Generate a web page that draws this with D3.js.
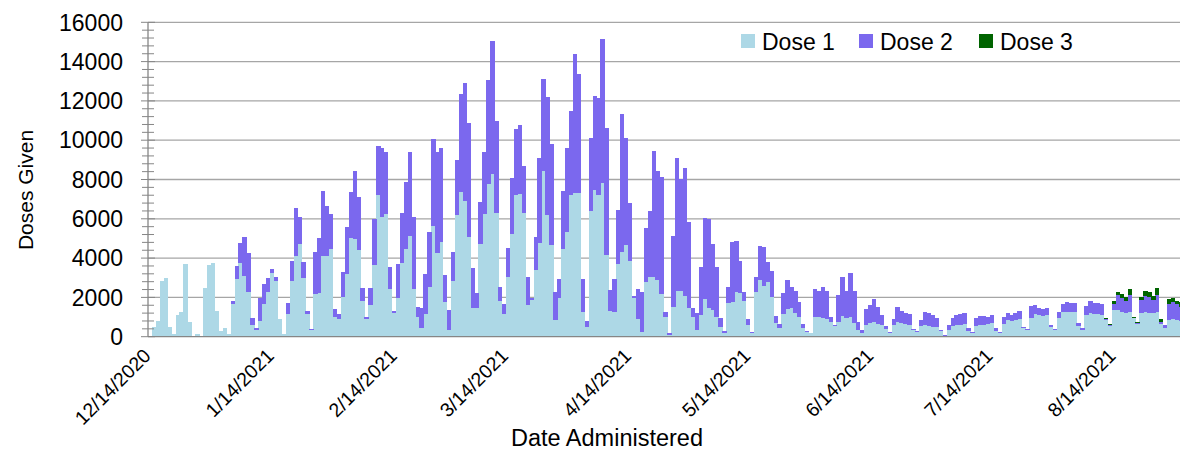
<!DOCTYPE html>
<html><head><meta charset="utf-8">
<script src="https://cdn.jsdelivr.net/npm/d3@7"></script>
<style>body{margin:0;background:#fff}svg{display:block}</style>
</head><body>
<svg id="c" width="1180" height="451"></svg>
<script>
// ---- data (daily doses, starting 12/14/2020) ----
const startDate = "2020-12-14";
const seriesNames = ["Dose 1", "Dose 2", "Dose 3"];
const seriesColors = ["#ADD8E6", "#7B68EE", "#006400"];

const dose1 = [
0,500,800,2850,2970,500,120,1100,1270,3680,760,0,120,0,2460,3650,3730,1300,290,420,120,
1650,2930,3730,3090,2290,590,340,800,1650,2290,3220,2830,900,120,1140,2830,4100,4700,3000,1170,
320,2190,2240,4120,4100,4480,1000,880,2040,3170,5000,4970,4410,1810,900,1610,3650,7210,6090,6260,
2430,1190,1980,3730,4460,5140,2430,1020,420,1140,2510,5650,4260,4800,1750,340,2850,6190,7360,6920,
5090,1480,1440,4700,6220,7770,8260,6310,1810,1150,3050,5220,7210,7280,6270,1610,1870,3390,4770,8450,
6190,4660,850,1980,4460,5340,7210,7290,7290,1270,510,6390,7460,7190,7800,4160,1310,1270,3680,4290,
4660,3850,1950,900,250,2800,3050,3050,2880,2150,1000,100,1530,2320,2320,2070,1440,1020,340,1100,
1920,1440,1360,1000,500,200,1730,1750,2290,2200,1800,600,200,2300,2880,2600,2800,2040,680,420,
1150,1390,1440,1190,1020,440,220,170,980,980,950,900,760,540,730,1050,930,1020,710,340,
200,610,680,760,640,600,390,170,590,760,710,640,590,340,250,540,590,540,510,510,
290,60,340,540,580,610,640,290,170,540,590,590,640,680,290,200,640,850,810,850,
920,420,340,930,1150,1100,1070,1100,510,340,930,1270,1270,1250,1240,540,340,1100,1190,1140,
1140,1100,850,540,1360,1360,1270,1220,1240,930,640,1220,1270,1220,1190,1270,650,420,850,880,850,810
];
const dose2 = [
0,0,0,0,0,0,0,0,0,0,0,0,0,0,0,0,0,0,0,0,0,
170,680,1020,2000,1950,340,120,1180,1010,680,220,200,0,0,560,1020,2460,1390,780,120,
50,2100,2760,3310,2570,1780,390,260,1230,2430,2360,3480,2710,650,120,850,2340,2510,3530,3150,
1100,120,1700,2550,3390,4270,3640,470,1020,2060,2820,4390,5150,4780,1390,1020,1440,2800,5000,5980,
5810,2000,800,2170,3160,5290,6800,4660,730,490,1480,2840,3360,3470,2410,1440,110,1660,4340,4640,
5990,5130,1410,940,2950,4240,4270,7090,6060,1650,290,3700,4800,4970,7330,6440,1050,1650,2760,7020,
5430,2930,140,1510,2040,2710,3340,6400,5550,5990,270,70,3610,6750,5700,6490,4380,420,850,2430,
4100,4560,3340,2560,470,80,780,3050,2580,1650,490,300,50,750,1750,1980,980,1300,370,210,
1050,1490,1070,1150,740,200,80,30,1450,1360,1560,1420,260,50,1390,2000,1410,2200,1630,420,
140,810,930,1140,850,500,150,70,310,730,610,580,560,70,50,310,660,650,590,460,
50,20,250,390,520,540,550,130,70,390,460,460,380,410,130,40,380,370,290,370,
400,90,30,650,440,340,320,340,100,30,320,390,480,480,490,170,100,460,620,560,
560,550,50,70,300,750,700,620,880,40,50,650,820,820,680,850,120,170,810,870,800,720
];
const dose3 = [
0,0,0,0,0,0,0,0,0,0,0,0,0,0,0,0,0,0,0,0,0,
0,0,0,0,0,0,0,0,0,0,0,0,0,0,0,0,0,0,0,0,
0,0,0,0,0,0,0,0,0,0,0,0,0,0,0,0,0,0,0,0,
0,0,0,0,0,0,0,0,0,0,0,0,0,0,0,0,0,0,0,0,
0,0,0,0,0,0,0,0,0,0,0,0,0,0,0,0,0,0,0,0,
0,0,0,0,0,0,0,0,0,0,0,0,0,0,0,0,0,0,0,0,
0,0,0,0,0,0,0,0,0,0,0,0,0,0,0,0,0,0,0,0,
0,0,0,0,0,0,0,0,0,0,0,0,0,0,0,0,0,0,0,0,
0,0,0,0,0,0,0,0,0,0,0,0,0,0,0,0,0,0,0,0,
0,0,0,0,0,0,0,0,0,0,0,0,0,0,0,0,0,0,0,0,
0,0,0,0,0,0,0,0,0,0,0,0,0,0,0,0,0,0,0,0,
0,0,0,0,0,0,0,0,0,0,0,0,0,0,0,0,0,0,0,0,
0,0,70,30,170,170,200,200,300,50,70,170,250,220,220,370,140,0,240,240,170,240
];
const yTickValues = [0,2000,4000,6000,8000,10000,12000,14000,16000];
const xTickLabels = ["12/14/2020","1/14/2021","2/14/2021","3/14/2021","4/14/2021","5/14/2021","6/14/2021","7/14/2021","8/14/2021"];

// ---- layout ----
const svg = d3.select("#c");
const L = 148, R = 1180, T = 22.3, B = 336.7, slotW = 3.934;
const font = "'Liberation Sans', Arial, sans-serif";
const n = dose1.length;
const parse = d3.timeParse("%Y-%m-%d");
const fmt = d3.timeFormat("%-m/%-d/%Y");
const dates = d3.range(n).map(i => d3.timeDay.offset(parse(startDate), i));
const rows = dates.map((d, i) => ({date: fmt(d), d1: dose1[i], d2: dose2[i], d3: dose3[i]}));

const x = d3.scaleBand().domain(rows.map(r => r.date)).range([L, L + n * slotW]).padding(0);
const y = d3.scaleLinear().domain([0, 16000]).range([B, T]);
// label positions along the date axis (day index -> px)
const xLab = d3.scaleLinear().domain([0, 243]).range([152, 1117]);

// gridlines
svg.append("g").selectAll("line").data(yTickValues.filter(v => v > 0)).join("line")
  .attr("x1", L).attr("x2", R).attr("y1", d => y(d)).attr("y2", d => y(d))
  .attr("stroke", "#a6a6a6").attr("stroke-width", 1.3);

// bars
svg.append("clipPath").attr("id", "clip").append("rect")
  .attr("x", L).attr("y", 0).attr("width", R - L).attr("height", B);
const stack = d3.stack().keys(["d1", "d2", "d3"])(rows);
svg.append("g").attr("clip-path", "url(#clip)").selectAll("g").data(stack).join("g")
  .attr("fill", (d, i) => seriesColors[i])
  .selectAll("rect").data(d => d).join("rect")
  .attr("shape-rendering", "crispEdges")
  .attr("x", d => x(d.data.date))
  .attr("width", x.bandwidth() + 0.4)
  .attr("y", d => y(d[1]))
  .attr("height", d => Math.max(0, y(d[0]) - y(d[1])));

// axes lines
svg.append("line").attr("x1", L).attr("x2", R).attr("y1", B).attr("y2", B)
  .attr("stroke", "#868686").attr("stroke-width", 1.3);
svg.append("line").attr("x1", L).attr("x2", L).attr("y1", T).attr("y2", B)
  .attr("stroke", "#868686").attr("stroke-width", 1.3);

// y ticks (major + minor)
const minor = d3.range(0, 16001, 400);
svg.append("g").selectAll("line").data(minor).join("line")
  .attr("x1", d => d % 2000 === 0 ? L - 7 : L - 6)
  .attr("x2", d => d % 2000 === 0 ? L + 7 : L + 6)
  .attr("y1", d => y(d)).attr("y2", d => y(d))
  .attr("stroke", "#868686").attr("stroke-width", 1);

svg.append("g").selectAll("text").data(yTickValues).join("text")
  .attr("x", 123).attr("y", d => y(d)).attr("dy", "0.36em")
  .attr("text-anchor", "end").attr("font-family", font).attr("font-size", 23)
  .attr("fill", "#000").text(d => d);

// x tick labels
const dayIndex = s => d3.timeDay.count(parse(startDate), d3.timeParse("%m/%d/%Y")(s));
svg.append("g").selectAll("text").data(xTickLabels).join("text")
  .attr("transform", d => `translate(${xLab(dayIndex(d))},${357}) rotate(-45)`)
  .attr("text-anchor", "end").attr("font-family", font).attr("font-size", 19.5)
  .attr("fill", "#000").text(d => d);

// axis titles
svg.append("text").attr("transform", "translate(33,190) rotate(-90)")
  .attr("text-anchor", "middle").attr("font-family", font).attr("font-size", 21)
  .text("Doses Given");
svg.append("text").attr("x", 607).attr("y", 446)
  .attr("text-anchor", "middle").attr("font-family", font).attr("font-size", 23.5)
  .text("Date Administered");

// legend
const legX = [741, 859, 979];
const leg = svg.append("g").selectAll("g").data(seriesNames).join("g")
  .attr("transform", (d, i) => `translate(${legX[i]},0)`);
leg.append("rect").attr("x", 0).attr("y", 34).attr("width", 14).attr("height", 14)
  .attr("fill", (d, i) => seriesColors[i]);
leg.append("text").attr("x", 21).attr("y", 50).attr("font-family", font).attr("font-size", 23)
  .text(d => d);
</script>
</body></html>
